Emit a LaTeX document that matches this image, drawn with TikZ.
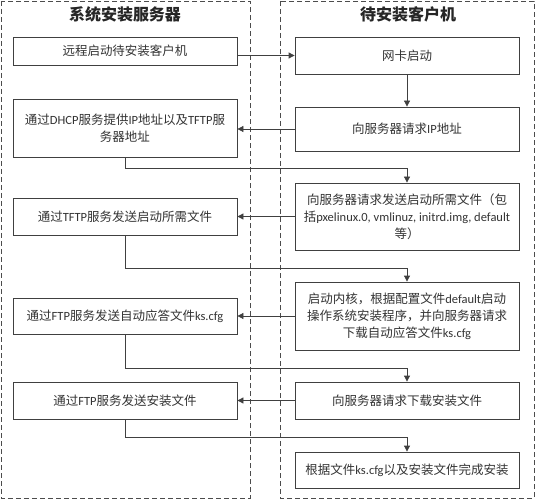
\documentclass[tikz,border=0pt]{standalone}
\usepackage{fontspec}
\setmainfont{Noto Sans CJK SC}
\newfontfamily\latfont{Carlito}
\newcommand{\la}[1]{{\latfont #1}}
\usetikzlibrary{arrows.meta}
\begin{document}
\begin{tikzpicture}[x=1pt,y=-1pt,
  lane/.style={draw=black!70, dash pattern=on 5pt off 3pt, line width=0.8pt},
  box/.style={draw=black!75, line width=0.8pt, fill=white, minimum width=224pt,
    inner sep=0pt, align=center, font=\fontsize{12.5}{17}\selectfont, text=black!80},
  title/.style={font=\fontsize{16}{18}\selectfont\bfseries, text=black!85},
  arr/.style={-{Triangle[length=6pt,width=6pt]}, draw=black!75, line width=0.8pt}]
\useasboundingbox (0,0) rectangle (536,500);
\draw[lane] (1,1) rectangle (250,498);
\draw[lane] (280,1) rectangle (534,498);
\node[title] (T1) at (125,14) {系统安装服务器};
\node[title] (T2) at (408,14) {待安装客户机};
\node[box, minimum height=28pt] (L1) at (125,51) {远程启动待安装客户机};
\node[box, minimum height=37pt] (R1) at (407,55.5) {网卡启动};
\node[box, minimum height=58pt] (L2) at (125,128) {通过\la{DHCP}服务提供\la{IP}地址以及\la{TFTP}服\\务器地址};
\node[box, minimum height=44pt] (R2) at (407,129) {向服务器请求\la{IP}地址};
\node[box, minimum height=37pt] (L3) at (125,216.5) {通过\la{TFTP}服务发送启动所需文件};
\node[box, minimum height=67pt] (R3) at (407,216.5) {向服务器请求发送启动所需文件（包\\括\la{pxelinux.0, vmlinuz, initrd.img, default}\\等）};
\node[box, minimum height=36pt] (L4) at (125,316) {通过\la{FTP}服务发送自动应答文件\la{ks.cfg}};
\node[box, minimum height=68pt] (R4) at (407,316) {启动内核，根据配置文件\la{default}启动\\操作系统安装程序，并向服务器请求\\下载自动应答文件\la{ks.cfg}};
\node[box, minimum height=37pt] (L5) at (125,400.5) {通过\la{FTP}服务发送安装文件};
\node[box, minimum height=37pt] (R5) at (407,400.5) {向服务器请求下载安装文件};
\node[box, minimum height=36pt] (R6) at (407,470) {根据文件\la{ks.cfg}以及安装文件完成安装};
\draw[arr] (L1.east |- R1.west) -- (R1.west);
\draw[arr] (R1.south) -- (R2.north);
\draw[arr] (R2.west) -- (L2.east |- R2.west);
\draw[arr] (L2.south) -- ++(0,11) -| (R3.north);
\draw[arr] (R3.west) -- (L3.east |- R3.west);
\draw[arr] (L3.south) -- ++(0,33) -| (R4.north);
\draw[arr] (R4.west) -- (L4.east |- R4.west);
\draw[arr] (L4.south) -- ++(0,34) -| (R5.north);
\draw[arr] (R5.west) -- (L5.east |- R5.west);
\draw[arr] (L5.south) -- ++(0,18) -| (R6.north);
\end{tikzpicture}
\end{document}
